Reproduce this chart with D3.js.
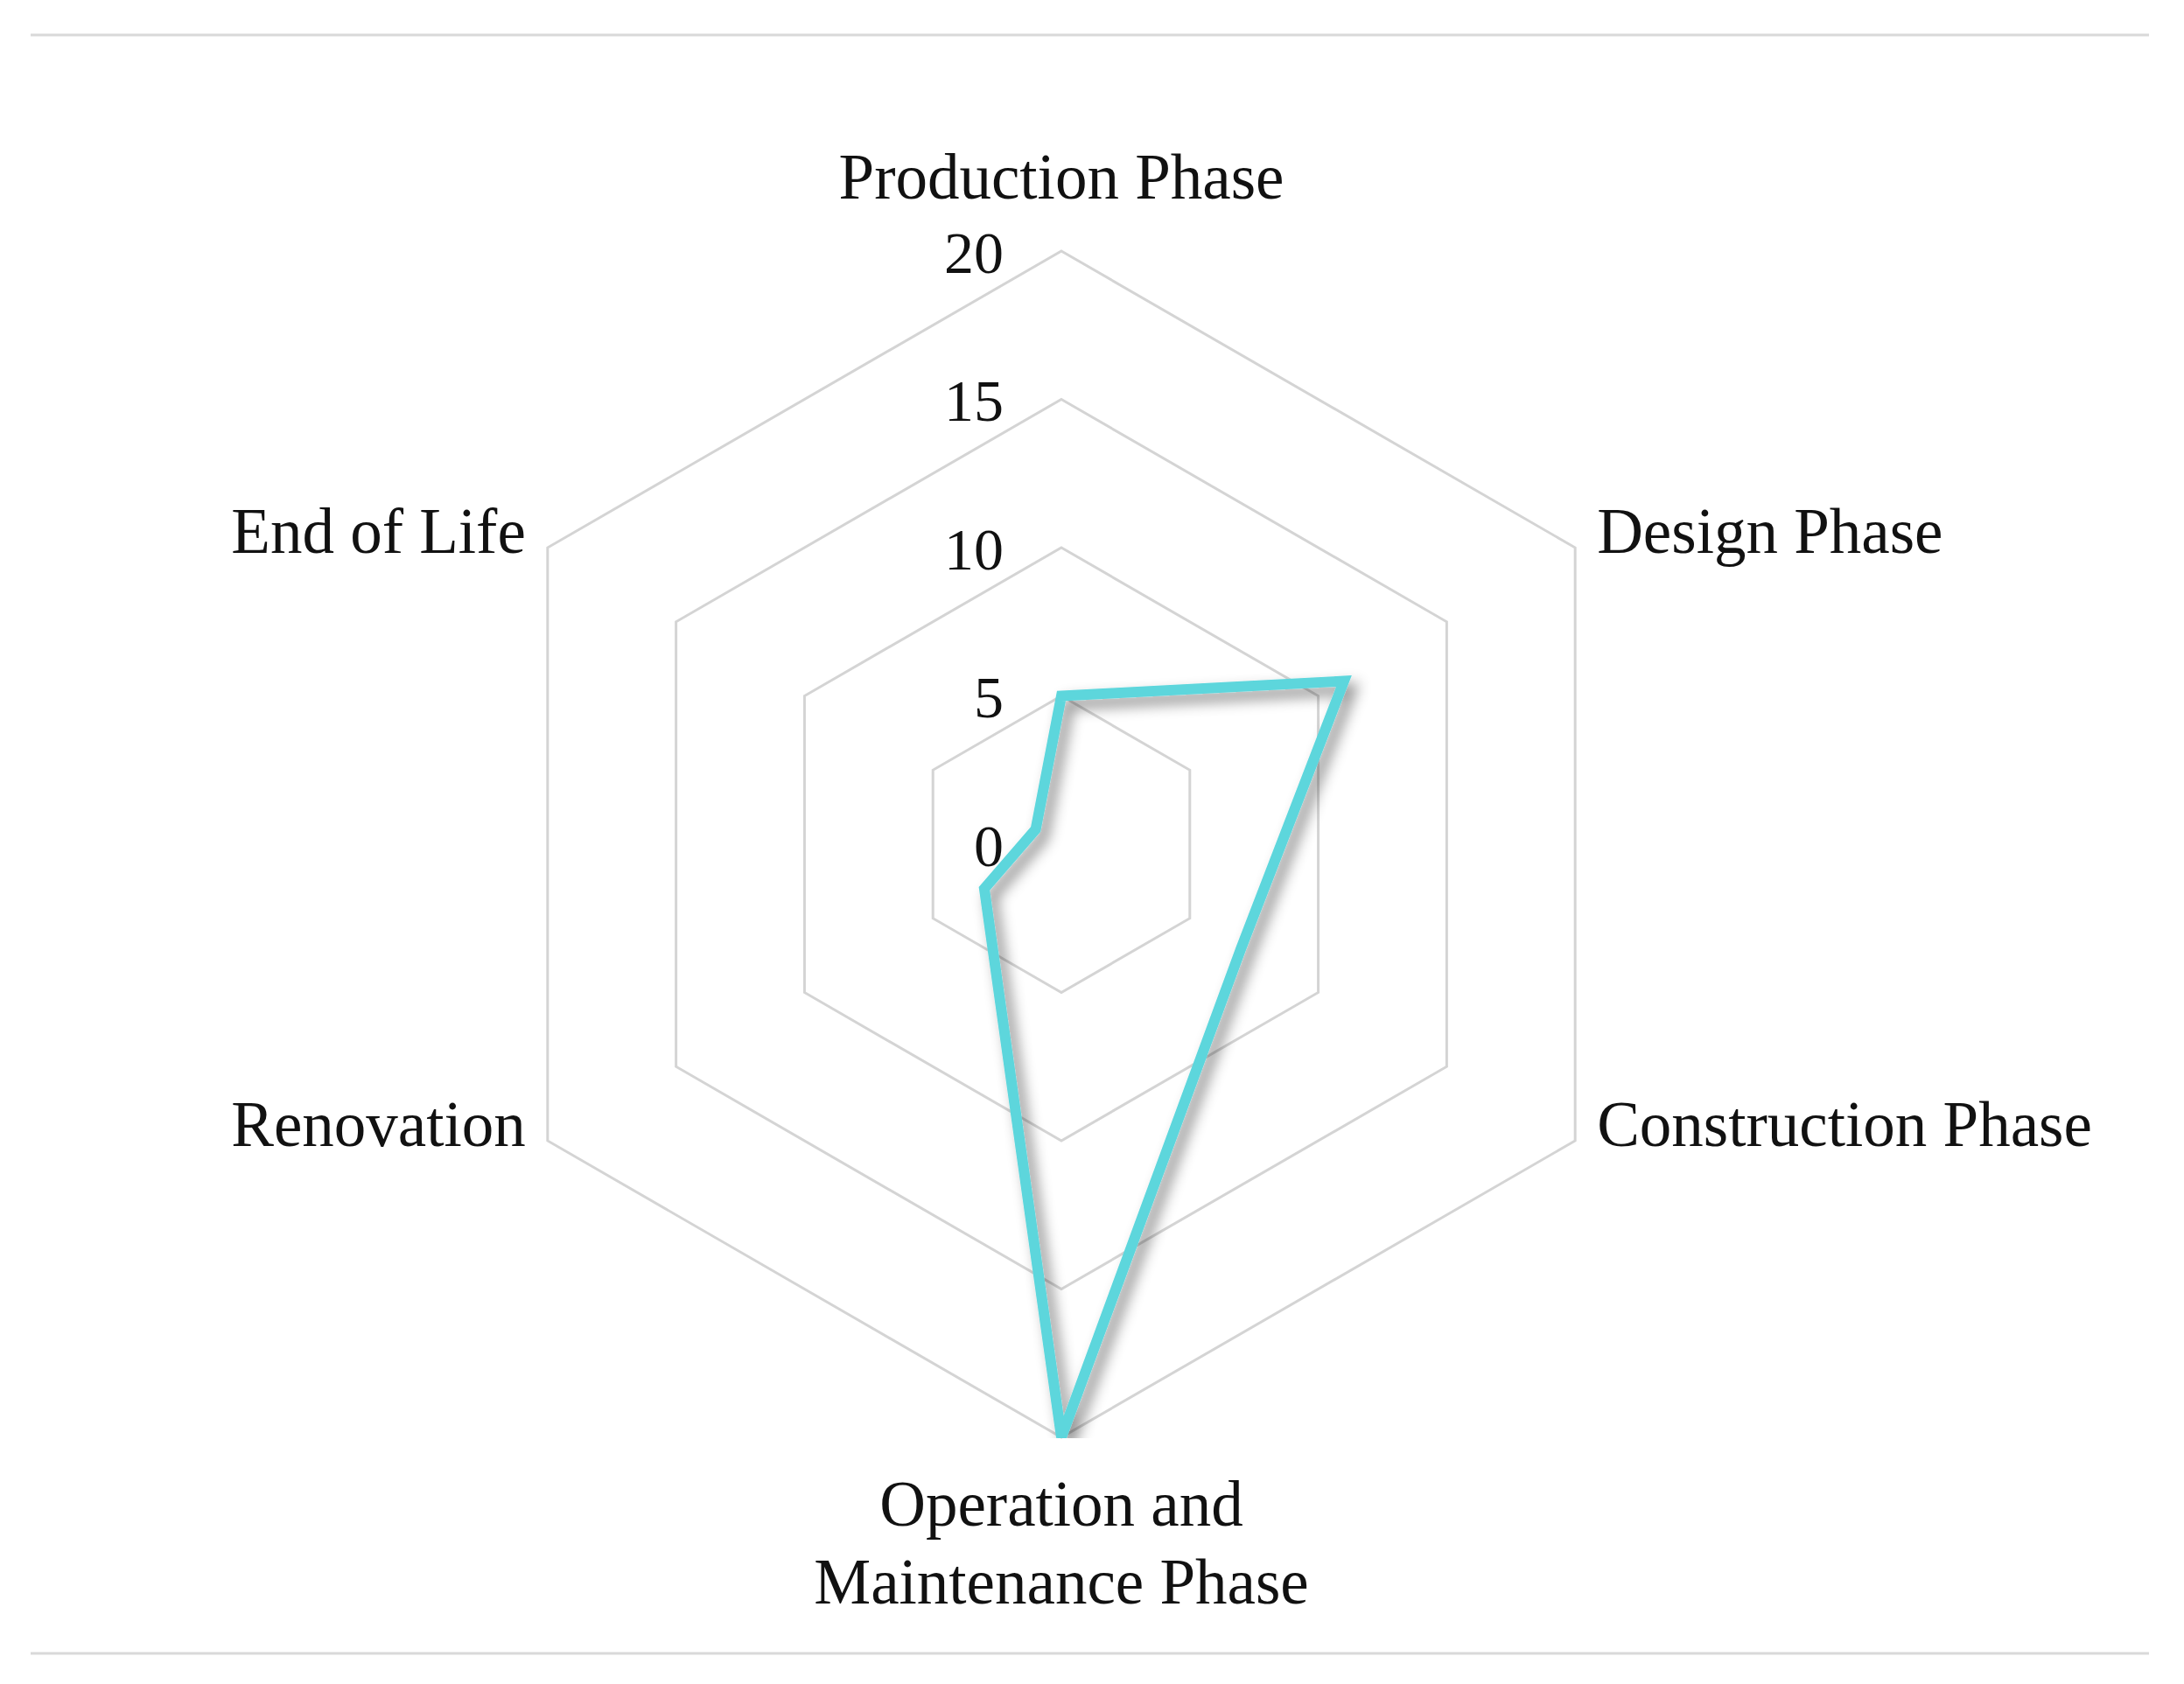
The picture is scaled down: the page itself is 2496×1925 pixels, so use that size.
<!DOCTYPE html>
<html>
<head>
<meta charset="utf-8">
<script src="https://cdn.jsdelivr.net/npm/d3@7"></script>
<style>
  body { margin: 0; background: #fff; }
  svg text { font-family: "Liberation Serif", "Times New Roman", serif; fill: #111; }
</style>
</head>
<body>
<div class="radar-container"></div>
<script>
// Data.
const phases = [
  ["Production Phase"],
  ["Design Phase"],
  ["Construction Phase"],
  ["Operation and", "Maintenance Phase"],
  ["Renovation"],
  ["End of Life"],
];
const counts = [5, 11, 7, 20, 3, 1];
const ringTicks = [0, 5, 10, 15, 20];

// Margin convention.
const width = 2496;
const height = 1925;
const cx = 1213;
const cy = 965;
const radius = 678;

const svg = d3
  .select(".radar-container")
  .append("svg")
  .attr("width", width)
  .attr("height", height);

// Scales.
const rScale = d3.scaleLinear().domain([0, 20]).range([0, radius]);
const angle = (i) => (i * 2 * Math.PI) / phases.length;

function point(i, v) {
  const a = angle(i) - Math.PI / 2;
  return [cx + rScale(v) * Math.cos(a), cy + rScale(v) * Math.sin(a)];
}

// Shadow for the series line.
const defs = svg.append("defs");
defs
  .append("filter")
  .attr("id", "shadow")
  .attr("x", "-20%")
  .attr("y", "-20%")
  .attr("width", "140%")
  .attr("height", "140%")
  .append("feDropShadow")
  .attr("dx", 8)
  .attr("dy", 9)
  .attr("stdDeviation", 8)
  .attr("flood-color", "#000")
  .attr("flood-opacity", 0.45);

defs
  .append("clipPath")
  .attr("id", "plot-clip")
  .append("rect")
  .attr("x", 0)
  .attr("y", 0)
  .attr("width", width)
  .attr("height", cy + radius + 1);

// Frame rules.
[40, 1890].forEach((y) => {
  svg
    .append("line")
    .attr("x1", 35)
    .attr("x2", 2456)
    .attr("y1", y)
    .attr("y2", y)
    .attr("stroke", "#d9d9d9")
    .attr("stroke-width", 3);
});

// Draw rings.
const lineGen = d3.line().curve(d3.curveLinearClosed);

svg
  .append("g")
  .attr("class", "rings")
  .selectAll("path")
  .data(ringTicks.filter((t) => t > 0))
  .enter()
  .append("path")
  .attr("d", (t) => lineGen(phases.map((p, i) => point(i, t))))
  .attr("fill", "none")
  .attr("stroke", "#d4d4d4")
  .attr("stroke-width", 3);

// Ring labels.
svg
  .append("g")
  .attr("class", "ring-labels")
  .selectAll("text")
  .data(ringTicks)
  .enter()
  .append("text")
  .attr("x", cx - 66)
  .attr("y", (t) => cy - rScale(t) + 9)
  .attr("text-anchor", "end")
  .attr("dominant-baseline", "middle")
  .style("font-size", "68px")
  .text((t) => t);

// Draw series.
svg
  .append("g")
  .attr("clip-path", "url(#plot-clip)")
  .append("path")
  .attr("d", lineGen(counts.map((v, i) => point(i, v))))
  .attr("fill", "none")
  .attr("stroke", "#5dd6dc")
  .attr("stroke-width", 12)
  .attr("stroke-linejoin", "miter")
  .attr("filter", "url(#shadow)");

// Category labels.
const labels = svg.append("g").attr("class", "category-labels");
phases.forEach((lines, i) => {
  const [x, y] = point(i, 20);
  const a = angle(i);
  let anchor = "middle";
  let dx = 0;
  let dy = 0;
  if (Math.abs(Math.sin(a)) > 0.1) {
    anchor = Math.sin(a) > 0 ? "start" : "end";
    dx = Math.sin(a) > 0 ? 25 : -25;
    dy = -11;
  } else if (Math.cos(a) > 0) {
    dy = -77;
  } else {
    dy = 84;
  }
  const text = labels
    .append("text")
    .attr("text-anchor", anchor)
    .attr("dominant-baseline", "middle")
    .style("font-size", "73px");
  lines.forEach((l, j) => {
    text
      .append("tspan")
      .attr("x", x + dx)
      .attr("y", y + dy + j * 89)
      .text(l);
  });
});
</script>
</body>
</html>
